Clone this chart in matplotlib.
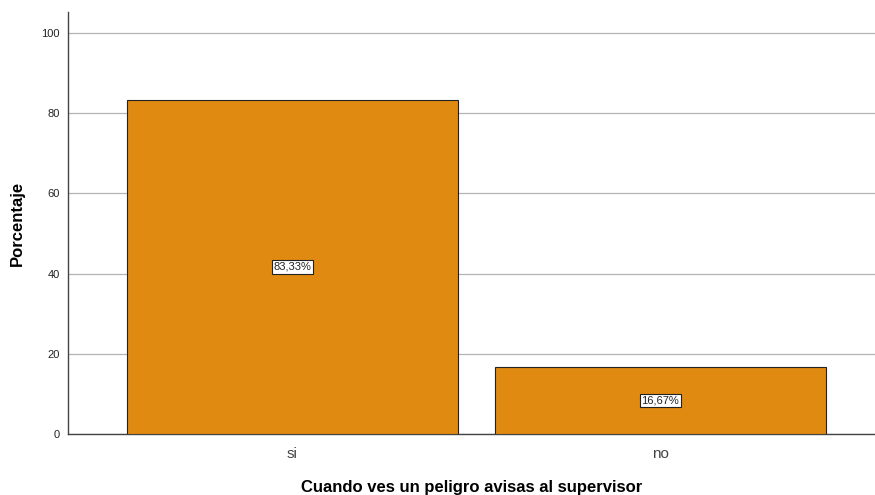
import matplotlib
matplotlib.use("Agg")
import matplotlib.pyplot as plt

categories = ["si", "no"]
percentages = [83.33, 16.67]
labels = ["83,33%", "16,67%"]
yticks = [0, 20, 40, 60, 80, 100]

plt.rcParams['font.family'] = ['Liberation Sans', 'DejaVu Sans']

fig = plt.figure(figsize=(8.75, 4.95), dpi=100)
ax = fig.add_axes([68 / 875, 61 / 495, 1 - 68 / 875, (434 - 12) / 495])

x = range(len(categories))
ax.bar(x, percentages, width=0.9, color="#E08A11", edgecolor="#222222", linewidth=0.8, zorder=3)

for xi, val, lab in zip(x, percentages, labels):
    ax.text(xi, val / 2, lab, ha="center", va="center", fontsize=8, color="#222222", zorder=4,
            bbox=dict(boxstyle="square,pad=0.15", facecolor="white", edgecolor="#222222", linewidth=0.8))

ax.set_xlim(-0.61, 1.583)
ax.set_ylim(0, 105.2)
ax.set_yticks(yticks)
ax.set_yticklabels([str(t) for t in yticks], fontsize=8, color="#222222")
ax.set_xticks(list(x))
ax.set_xticklabels(categories, fontsize=11, color="#444444")
ax.tick_params(axis="both", length=0, pad=6)
ax.tick_params(axis="x", pad=9)

ax.yaxis.grid(True, color="#B4B4B4", linewidth=0.9, zorder=0)
ax.set_axisbelow(True)
for side in ["top", "right"]:
    ax.spines[side].set_visible(False)
for side in ["left", "bottom"]:
    ax.spines[side].set_color("#444444")
    ax.spines[side].set_linewidth(1.0)

ax.set_ylabel("Porcentaje", fontsize=12, fontweight="bold", labelpad=12)
ax.set_xlabel("Cuando ves un peligro avisas al supervisor", fontsize=12, fontweight="bold", labelpad=14)

fig.savefig("out.png", dpi=100)
